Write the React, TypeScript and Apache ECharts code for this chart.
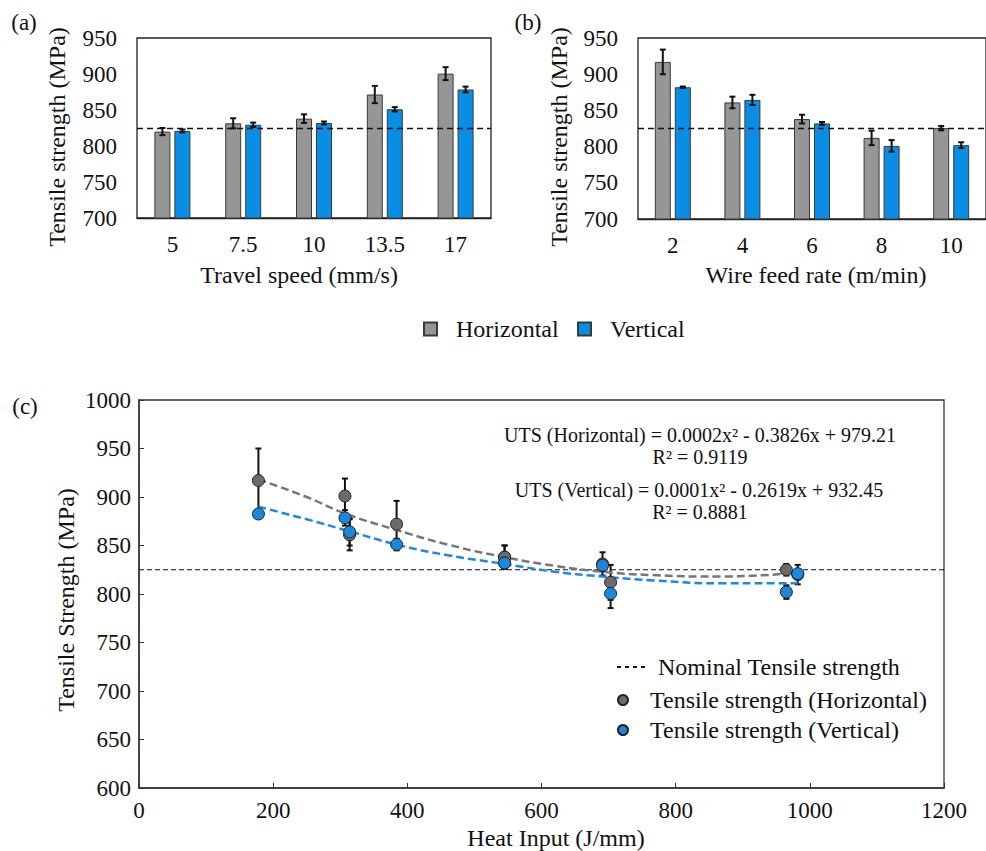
import React, { useEffect, useRef } from "react";
import * as echarts from "echarts";

// ---------- data ----------
const travelSpeed = ["5", "7.5", "10", "13.5", "17"];
const wireFeed = ["2", "4", "6", "8", "10"];
const speedH = [820, 831.5, 838, 871.5, 900.5];
const speedHErr = [5, 7, 6, 12, 9];
const speedV = [821, 829.5, 832, 851, 878.5];
const speedVErr = [2, 3, 2, 3, 4];
const feedH = [917, 861, 838, 812, 825.5];
const feedHErr = [17, 8, 6, 10, 3];
const feedV = [882, 864.5, 832, 801, 802];
const feedVErr = [1, 7, 2, 8, 4];
const nominal = 825;

const heatInput = [178, 307, 314, 384, 545, 545, 691, 703, 965, 982];
const heatH = [917, 901, 861, 872, 838, 838, 831, 812, 825, 820];
const heatHErr = [33, 18, 16, 24, 12, 12, 12, 18, 6, 10];
const heatV = [882.5, 878.5, 864, 851, 832, 832, 829.5, 800.5, 802, 821];
const heatVErr = [2, 8, 14, 6, 4, 4, 6, 15, 7, 4];
const fitX = [178, 250, 307, 384, 460, 545, 620, 691, 766, 866, 982];
const fitH = [918, 900, 883, 866, 851, 838, 829, 823, 819.5, 818, 822];
const fitV = [890, 877, 866, 851, 840, 831, 823, 818, 814, 811, 811];
const heatRange = [0, 1200];

const eqH = "UTS (Horizontal) = 0.0002x² - 0.3826x + 979.21";
const r2H = "R² = 0.9119";
const eqV = "UTS (Vertical) = 0.0001x² - 0.2619x + 932.45";
const r2V = "R² = 0.8881";

// ---------- style ----------
const FAMILY = "Liberation Serif";
const GRAY_BAR = "#969696";
const BLUE_BAR = "#0A8DE4";
const GRAY_PT = "#6B6B6B";
const BLUE_PT = "#1A87DC";
const BAR_W = 16;
const BAR_GAP = 0.25;
const BAR_OFF = (BAR_W * (1 + BAR_GAP)) / 2;
const DASH_ICON = "path://M0,4h4v2h-4z M8,4h4v2h-4z M16,4h4v2h-4z M24,4h4v2h-4z";
const plain = (v: number) => String(v);
const FONT_CSS = `.chart-root text, .chart-root tspan { font-family: "Liberation Serif", "Times New Roman", serif !important; }`;

function barErr(axis: number, values: number[], errs: number[], side: number) {
  return {
    type: "custom",
    xAxisIndex: axis,
    yAxisIndex: axis,
    z: 5,
    encode: { x: 0, y: 1 },
    data: values.map((v, i) => [i, v, errs[i]]),
    renderItem: (_p: any, api: any) => {
      const i = api.value(0);
      const v = api.value(1);
      const e = api.value(2);
      const t = api.coord([i, v + e]);
      const b = api.coord([i, v - e]);
      const x = t[0] + side * BAR_OFF;
      const st = { stroke: "#111", lineWidth: 2 };
      return {
        type: "group",
        children: [
          { type: "line", shape: { x1: x, y1: t[1], x2: x, y2: b[1] }, style: st },
          { type: "line", shape: { x1: x - 3, y1: t[1], x2: x + 3, y2: t[1] }, style: st },
          { type: "line", shape: { x1: x - 3, y1: b[1], x2: x + 3, y2: b[1] }, style: st },
        ],
      };
    },
  };
}

function ptErr(xs: number[], ys: number[], errs: number[], z: number) {
  return {
    type: "custom",
    xAxisIndex: 2,
    yAxisIndex: 2,
    z,
    encode: { x: 0, y: 1 },
    data: xs.map((x, i) => [x, ys[i], errs[i]]),
    renderItem: (_p: any, api: any) => {
      const x = api.value(0);
      const v = api.value(1);
      const e = api.value(2);
      const t = api.coord([x, v + e]);
      const b = api.coord([x, v - e]);
      const st = { stroke: "#111", lineWidth: 2 };
      return {
        type: "group",
        children: [
          { type: "line", shape: { x1: t[0], y1: t[1], x2: t[0], y2: b[1] }, style: st },
          { type: "line", shape: { x1: t[0] - 3, y1: t[1], x2: t[0] + 3, y2: t[1] }, style: st },
          { type: "line", shape: { x1: t[0] - 3, y1: b[1], x2: t[0] + 3, y2: b[1] }, style: st },
        ],
      };
    },
  };
}

function txt(text: string, x: number, y: number, size: number, rot = 0) {
  return {
    type: "text",
    x,
    y,
    rotation: rot,
    style: {
      text,
      font: `${size}px ${FAMILY}`,
      fill: "#111",
      align: "center",
      verticalAlign: "middle",
      textAlign: "center",
      textVerticalAlign: "middle",
    },
  };
}

function barCatAxis(grid: number, cats: string[]) {
  return {
    type: "category",
    gridIndex: grid,
    data: cats,
    axisTick: { show: false },
    axisLine: { lineStyle: { color: "#222", width: 1.3 } },
    axisLabel: { fontSize: 23, fontFamily: FAMILY, color: "#111", margin: 15 },
  };
}

function barValAxis(grid: number) {
  return {
    type: "value",
    gridIndex: grid,
    min: 700,
    max: 950,
    interval: 50,
    splitLine: { show: false },
    axisTick: { show: false },
    axisLine: { show: false },
    axisLabel: { fontSize: 23, fontFamily: FAMILY, color: "#111", margin: 20 },
  };
}

function bars(axis: number, name: string, values: number[], color: string, withNominal: boolean) {
  const s: any = {
    type: "bar",
    name,
    xAxisIndex: axis,
    yAxisIndex: axis,
    data: values,
    barWidth: BAR_W,
    barGap: `${BAR_GAP * 100}%`,
    itemStyle: { color, borderColor: "#3a3a3a", borderWidth: 1 },
    z: 2,
  };
  if (withNominal) {
    s.markLine = {
      silent: true,
      symbol: "none",
      label: { show: false },
      lineStyle: { color: "#111", type: [6, 4], width: 1.3 },
      data: [{ yAxis: nominal }],
    };
  }
  return s;
}

const legendText = { fontSize: 24, fontFamily: FAMILY, color: "#111", padding: [0, 0, 0, 8] };

function legendOne(name: any, left: number, top: number, w: number, h: number, pad: number) {
  return {
    data: [name],
    left,
    top,
    padding: 0,
    itemWidth: w,
    itemHeight: h,
    textStyle: { ...legendText, padding: [0, 0, 0, pad] },
    selectedMode: false,
  };
}

export default function App() {
  const ref = useRef<HTMLDivElement>(null);
  useEffect(() => {
    if (!ref.current) return;
    const chart = echarts.init(ref.current, null, { renderer: "svg" });
    const option: any = {
      animation: false,
      backgroundColor: "#fff",
      grid: [
        { left: 137, top: 38, width: 354, height: 180, show: true, borderColor: "#222", borderWidth: 1.3, backgroundColor: "transparent" },
        { left: 638, top: 38, width: 349, height: 181, show: true, borderColor: "#222", borderWidth: 1.3, backgroundColor: "transparent" },
        { left: 139, top: 400, width: 805, height: 388, show: true, borderColor: "#333", borderWidth: 1.3, backgroundColor: "transparent" },
      ],
      xAxis: [
        barCatAxis(0, travelSpeed),
        barCatAxis(1, wireFeed),
        {
          type: "value",
          gridIndex: 2,
          min: heatRange[0],
          max: heatRange[1],
          interval: 200,
          splitLine: { show: false },
          axisTick: { inside: true, length: 5, lineStyle: { color: "#333" } },
          axisLine: { lineStyle: { color: "#333", width: 1.5 } },
          axisLabel: { fontSize: 23, fontFamily: FAMILY, color: "#111", margin: 11, formatter: plain },
        },
      ],
      yAxis: [
        barValAxis(0),
        barValAxis(1),
        {
          type: "value",
          gridIndex: 2,
          min: 600,
          max: 1000,
          interval: 50,
          splitLine: { show: false },
          axisTick: { inside: true, length: 5, lineStyle: { color: "#333" } },
          axisLine: { lineStyle: { color: "#333", width: 1.5 } },
          axisLabel: { fontSize: 23, fontFamily: FAMILY, color: "#111", margin: 8, formatter: plain },
        },
      ],
      legend: [
        { ...legendOne("Horizontal", 423, 317, 13, 13, 14), icon: "rect" },
        { ...legendOne("Vertical", 577, 317, 13, 13, 14), icon: "rect" },
        legendOne({ name: "Nominal Tensile strength", icon: DASH_ICON }, 617, 655, 28, 10, 8),
        legendOne("Tensile strength (Horizontal)", 617, 688, 28, 10, 8),
        legendOne("Tensile strength (Vertical)", 617, 718, 28, 10, 8),
      ],
      series: [
        bars(0, "Horizontal", speedH, GRAY_BAR, false),
        bars(0, "Vertical", speedV, BLUE_BAR, true),
        barErr(0, speedH, speedHErr, -1),
        barErr(0, speedV, speedVErr, 1),
        bars(1, "Horizontal", feedH, GRAY_BAR, false),
        bars(1, "Vertical", feedV, BLUE_BAR, true),
        barErr(1, feedH, feedHErr, -1),
        barErr(1, feedV, feedVErr, 1),
        {
          type: "line",
          name: "Nominal Tensile strength",
          xAxisIndex: 2,
          yAxisIndex: 2,
          data: heatRange.map((x) => [x, nominal]),
          symbol: "none",
          lineStyle: { color: "#111", type: [5, 3], width: 1.2 },
          itemStyle: { color: "#111" },
          z: 1,
        },
        ptErr(heatInput, heatH, heatHErr, 2),
        ptErr(heatInput, heatV, heatVErr, 2),
        {
          type: "line",
          xAxisIndex: 2,
          yAxisIndex: 2,
          data: fitX.map((x, i) => [x, fitH[i]]),
          smooth: true,
          symbol: "none",
          lineStyle: { color: "#777", type: [8, 4], width: 2.5 },
          z: 3,
        },
        {
          type: "line",
          xAxisIndex: 2,
          yAxisIndex: 2,
          data: fitX.map((x, i) => [x, fitV[i]]),
          smooth: true,
          symbol: "none",
          lineStyle: { color: "#1E88E5", type: [8, 4], width: 2.5 },
          z: 3,
        },
        {
          type: "scatter",
          name: "Tensile strength (Horizontal)",
          xAxisIndex: 2,
          yAxisIndex: 2,
          data: heatInput.map((x, i) => [x, heatH[i]]),
          symbol: "circle",
          symbolSize: 12,
          itemStyle: { color: GRAY_PT, borderColor: "#222", borderWidth: 1, opacity: 1 },
          z: 4,
        },
        {
          type: "scatter",
          name: "Tensile strength (Vertical)",
          xAxisIndex: 2,
          yAxisIndex: 2,
          data: heatInput.map((x, i) => [x, heatV[i]]),
          symbol: "circle",
          symbolSize: 12,
          itemStyle: { color: BLUE_PT, borderColor: "#222", borderWidth: 1, opacity: 1 },
          z: 5,
        },
      ],
      graphic: [
        txt("(a)", 24, 22, 23),
        txt("(b)", 528, 22, 23),
        txt("(c)", 25, 406, 23),
        txt("Tensile strength (MPa)", 57, 137, 24, Math.PI / 2),
        txt("Travel speed (mm/s)", 299, 275, 24),
        txt("Tensile strength (MPa)", 559, 137, 24, Math.PI / 2),
        txt("Wire feed rate (m/min)", 816, 275, 24),
        txt("Tensile Strength (MPa)", 66, 600, 24, Math.PI / 2),
        txt("Heat Input (J/mm)", 556, 838, 24),
        txt(eqH, 700, 435, 20),
        txt(r2H, 700, 457, 20),
        txt(eqV, 699, 490, 20),
        txt(r2V, 700, 512, 20),
      ],
    };
    chart.setOption(option);
    return () => chart.dispose();
  }, []);
  return (
    <>
      <style>{FONT_CSS}</style>
      <div
        ref={ref}
        className="chart-root"
        style={{ position: "fixed", left: 0, top: 0, width: 986, height: 851, background: "#fff" }}
      />
    </>
  );
}
